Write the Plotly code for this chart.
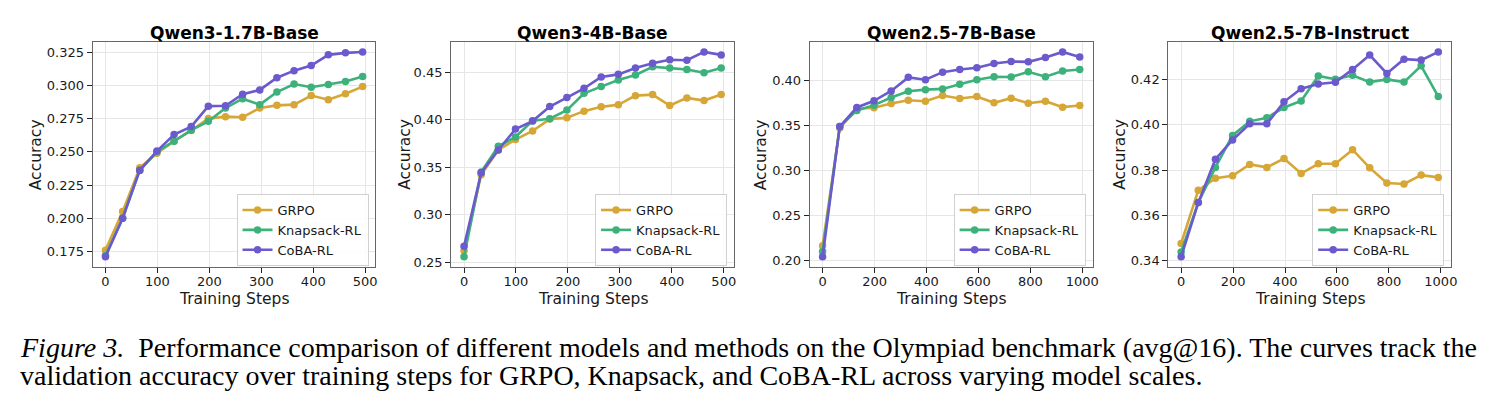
import plotly.graph_objects as go

# ---------------- data ----------------
steps_small = [0, 33, 66, 99, 132, 165, 198, 231, 264, 297, 330, 363, 396, 429, 462, 495]
steps_large = [0, 66, 132, 198, 264, 330, 396, 462, 528, 594, 660, 726, 792, 858, 924, 990]

titles = ["Qwen3-1.7B-Base", "Qwen3-4B-Base", "Qwen2.5-7B-Base", "Qwen2.5-7B-Instruct"]
methods = ["GRPO", "Knapsack-RL", "CoBA-RL"]

q17_grpo = [0.176, 0.205, 0.238, 0.249, 0.258, 0.266, 0.275, 0.2765, 0.276, 0.283, 0.285, 0.2855, 0.2924, 0.2892, 0.2937, 0.2991]
q17_knap = [0.172, 0.200, 0.236, 0.250, 0.258, 0.2663, 0.273, 0.283, 0.290, 0.2855, 0.295, 0.301, 0.2986, 0.3006, 0.3029, 0.3068]
q17_coba = [0.171, 0.200, 0.2362, 0.2506, 0.263, 0.269, 0.2844, 0.2847, 0.2934, 0.2966, 0.3058, 0.3111, 0.3150, 0.3230, 0.3245, 0.3252]

q4_grpo = [0.262, 0.342, 0.368, 0.379, 0.388, 0.4005, 0.402, 0.4089, 0.4134, 0.4155, 0.4252, 0.4263, 0.4148, 0.4228, 0.420, 0.4263]
q4_knap = [0.2556, 0.3448, 0.3719, 0.3817, 0.3988, 0.4009, 0.410, 0.4277, 0.4347, 0.4416, 0.4469, 0.4556, 0.4542, 0.4528, 0.4493, 0.4542]
q4_coba = [0.2667, 0.344, 0.368, 0.390, 0.3984, 0.4137, 0.4232, 0.4329, 0.4448, 0.4476, 0.4542, 0.4594, 0.4629, 0.4625, 0.4712, 0.4681]

q7b_grpo = [0.2165, 0.3473, 0.3685, 0.3696, 0.3744, 0.378, 0.3769, 0.3832, 0.3799, 0.3821, 0.3751, 0.3802, 0.3747, 0.3769, 0.3703, 0.3722]
q7b_knap = [0.2103, 0.3487, 0.3667, 0.3725, 0.381, 0.3879, 0.3897, 0.3905, 0.3956, 0.4007, 0.404, 0.4037, 0.4095, 0.404, 0.4103, 0.4121]
q7b_coba = [0.2044, 0.3487, 0.370, 0.3773, 0.3883, 0.4033, 0.4007, 0.4091, 0.4121, 0.4139, 0.4187, 0.4209, 0.4205, 0.4253, 0.4315, 0.426]

q7i_grpo = [0.3477, 0.3711, 0.3764, 0.3775, 0.3825, 0.3812, 0.3851, 0.3785, 0.3828, 0.3828, 0.389, 0.381, 0.3743, 0.3739, 0.3778, 0.3768]
q7i_knap = [0.3439, 0.3657, 0.3812, 0.3953, 0.4015, 0.4031, 0.4076, 0.4105, 0.4215, 0.4201, 0.4218, 0.4188, 0.420, 0.4188, 0.426, 0.4124]
q7i_coba = [0.3418, 0.3657, 0.3848, 0.3933, 0.4004, 0.4004, 0.4101, 0.4159, 0.418, 0.4187, 0.4244, 0.4307, 0.4226, 0.4289, 0.4285, 0.4321]

ytick_sets = [
    [0.175, 0.200, 0.225, 0.250, 0.275, 0.300, 0.325],
    [0.25, 0.30, 0.35, 0.40, 0.45],
    [0.20, 0.25, 0.30, 0.35, 0.40],
    [0.34, 0.36, 0.38, 0.40, 0.42],
]
ytick_fmt = [".3f", ".2f", ".2f", ".2f"]
xtick_sets = [[0, 100, 200, 300, 400, 500], [0, 100, 200, 300, 400, 500],
              [0, 200, 400, 600, 800, 1000], [0, 200, 400, 600, 800, 1000]]

caption_line1 = ("<i>Figure 3.</i>  Performance comparison of different models and methods on the "
                 "Olympiad benchmark (avg@16). The curves track the")
caption_line2 = ("validation accuracy over training steps for GRPO, Knapsack, and CoBA-RL across "
                 "varying model scales.")

panels = [
    (steps_small, [q17_grpo, q17_knap, q17_coba]),
    (steps_small, [q4_grpo, q4_knap, q4_coba]),
    (steps_large, [q7b_grpo, q7b_knap, q7b_coba]),
    (steps_large, [q7i_grpo, q7i_knap, q7i_coba]),
]

colors = ["#D6A636", "#3DB17B", "#6A5ACD"]

# ---------------- layout geometry ----------------
W, H = 1491, 409
left_px = [93, 453, 813, 1173]
plot_w = 284
top_px, bot_px = 42, 269
y0 = 1 - bot_px / H
y1 = 1 - top_px / H

FONT = "DejaVu Sans"
fig = go.Figure()
annotations = []
layout_updates = {}

for i, (xs, series) in enumerate(panels):
    n = "" if i == 0 else str(i + 1)
    xa, ya = "x" + n, "y" + n
    leg = "legend" + n
    for m, vals, c in zip(methods, series, colors):
        fig.add_trace(go.Scatter(
            x=xs, y=vals, name=m, mode="lines+markers",
            line=dict(color=c, width=2.6),
            marker=dict(color=c, size=7.5),
            xaxis=xa, yaxis=ya, legend=leg, showlegend=True,
        ))
    allv = [v for s in series for v in s]
    ymin, ymax = min(allv), max(allv)
    pad = (ymax - ymin) * 0.05
    xmin, xmax = min(xs), max(xs)
    xpad = (xmax - xmin) * 0.05
    x0 = left_px[i] / W
    x1 = (left_px[i] + plot_w) / W
    axis_common = dict(
        showline=True, mirror=True, linecolor="#666666", linewidth=1,
        showgrid=True, gridcolor="#E6E6E6", gridwidth=1,
        zeroline=False, ticks="outside", ticklen=5, tickwidth=1.2, tickcolor="#222222",
        tickfont=dict(family=FONT, size=13, color="#1a1a1a"),
    )
    layout_updates["xaxis" + n] = dict(
        domain=[x0, x1], anchor=ya, range=[xmin - xpad, xmax + xpad],
        tickvals=xtick_sets[i], ticklabelstandoff=-3, **axis_common)
    layout_updates["yaxis" + n] = dict(
        domain=[y0, y1], anchor=xa, range=[ymin - pad, ymax + pad],
        tickvals=ytick_sets[i], tickformat=ytick_fmt[i], **axis_common)
    layout_updates[leg] = dict(
        x=(left_px[i] + plot_w - 7) / W, y=1 - (bot_px - 1) / H,
        xanchor="right", yanchor="bottom",
        bgcolor="rgba(255,255,255,0.85)", bordercolor="#D0D0D0", borderwidth=1,
        font=dict(family=FONT, size=13, color="#1a1a1a"),
        itemwidth=30, tracegroupgap=0,
    )
    cx = (left_px[i] + plot_w / 2) / W
    annotations.append(dict(
        text="<b>" + titles[i] + "</b>", x=cx, y=1 - 33 / H, xref="paper", yref="paper",
        xanchor="center", yanchor="middle", showarrow=False,
        font=dict(family=FONT, size=17, color="black")))
    annotations.append(dict(
        text="Training Steps", x=cx, y=1 - 301 / H, xref="paper", yref="paper",
        xanchor="center", yanchor="middle", showarrow=False,
        font=dict(family=FONT, size=15.5, color="#1a1a1a")))

# y-axis labels (x centers measured per panel)
ylab_x = [37, 407, 764, 1125]
for xp in ylab_x:
    annotations.append(dict(
        text="Accuracy", x=xp / W, y=1 - ((top_px + bot_px) / 2) / H, xref="paper", yref="paper",
        xanchor="center", yanchor="middle", showarrow=False, textangle=-90,
        font=dict(family=FONT, size=15.5, color="#1a1a1a")))

annotations.append(dict(
    text=caption_line1, x=18 / W, y=1 - 350 / H, xref="paper", yref="paper",
    xanchor="left", yanchor="middle", showarrow=False,
    font=dict(family="Liberation Serif", size=28, color="black")))
annotations.append(dict(
    text=caption_line2, x=18 / W, y=1 - 378 / H, xref="paper", yref="paper",
    xanchor="left", yanchor="middle", showarrow=False,
    font=dict(family="Liberation Serif", size=28, color="black")))

fig.update_layout(
    width=W, height=H, margin=dict(l=0, r=0, t=0, b=0),
    paper_bgcolor="white", plot_bgcolor="white",
    annotations=annotations, **layout_updates,
)

fig.write_html("out.html")
